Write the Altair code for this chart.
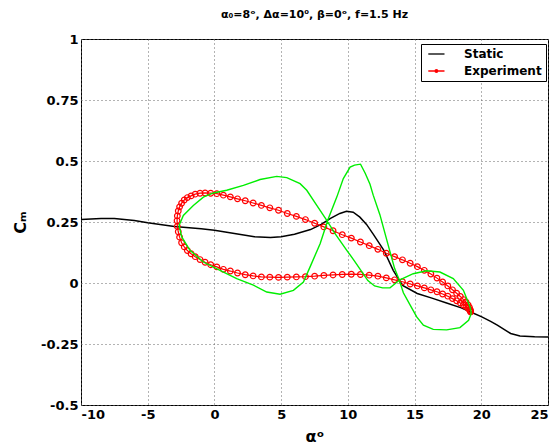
import altair as alt
import pandas as pd

# ---- data ----
static_alpha = [-10, -8.5, -7.5, -6, -5, -3, -1, 0, 1.5, 3, 4.2, 5, 6, 7.2, 8, 8.7, 9.4, 9.9, 10.4, 10.9,
                11.4, 11.9, 12.7, 13.4, 14.1, 15.2, 16.3, 17.4, 18.5, 19.2, 20, 20.7, 21.2, 22.2, 22.9, 24, 25]
static_cm = [0.26, 0.264, 0.264, 0.256, 0.247, 0.232, 0.222, 0.216, 0.203, 0.19, 0.186, 0.19, 0.2, 0.219,
             0.24, 0.265, 0.285, 0.294, 0.29, 0.27, 0.24, 0.2, 0.134, 0.052, -0.01, -0.043, -0.062, -0.082,
             -0.102, -0.119, -0.138, -0.157, -0.173, -0.207, -0.217, -0.22, -0.221]

exp_alpha_upper = [19.2, 19.18, 19.11, 19.01, 18.85, 18.66, 18.43, 18.15, 17.84, 17.49, 17.10, 16.68, 16.22,
                   15.73, 15.21, 14.67, 14.09, 13.50, 12.88, 12.25, 11.60, 10.94, 10.26, 9.58, 8.89, 8.2, 7.51,
                   6.82, 6.14, 5.46, 4.80, 4.15, 3.52, 2.90, 2.31, 1.73, 1.19, 0.67, 0.18, -0.28, -0.70, -1.08,
                   -1.44, -1.75, -2.03, -2.26, -2.46, -2.61, -2.71, -2.78, -2.8]
exp_cm_upper = [-0.118, -0.11, -0.10, -0.09, -0.078, -0.068, -0.055, -0.042, -0.028, -0.012, 0.004, 0.02,
                0.037, 0.052, 0.067, 0.081, 0.095, 0.108, 0.122, 0.138, 0.153, 0.168, 0.184, 0.198, 0.214,
                0.23, 0.245, 0.26, 0.273, 0.285, 0.298, 0.308, 0.318, 0.328, 0.337, 0.345, 0.353, 0.36, 0.366,
                0.368, 0.369, 0.368, 0.364, 0.357, 0.35, 0.34, 0.327, 0.312, 0.295, 0.275, 0.255]
exp_alpha_lower = [-2.78, -2.71, -2.61, -2.46, -2.26, -2.03, -1.75, -1.44, -1.08, -0.70, -0.28, 0.18, 0.67,
                   1.19, 1.73, 2.31, 2.90, 3.52, 4.15, 4.80, 5.46, 6.14, 6.82, 7.51, 8.2, 8.89, 9.58, 10.26,
                   10.94, 11.60, 12.25, 12.88, 13.50, 14.09, 14.67, 15.21, 15.73, 16.22, 16.68, 17.10, 17.49,
                   17.84, 18.15, 18.43, 18.66, 18.85, 19.01, 19.11, 19.18, 19.2]
exp_cm_lower = [0.232, 0.21, 0.188, 0.165, 0.148, 0.133, 0.12, 0.108, 0.096, 0.085, 0.075, 0.066, 0.056,
                0.049, 0.041, 0.034, 0.029, 0.025, 0.024, 0.023, 0.024, 0.025, 0.026, 0.028, 0.031, 0.033,
                0.035, 0.036, 0.035, 0.032, 0.028, 0.021, 0.013, 0.005, -0.004, -0.012, -0.02, -0.028,
                -0.036, -0.045, -0.054, -0.064, -0.073, -0.082, -0.09, -0.097, -0.104, -0.11, -0.115, -0.118]

green_alpha = [-2.65, -2.33, -1.58, -0.83, -0.08, 0.92, 2.17, 3.42, 4.67, 5.42, 6.42, 6.92, 7.67, 8.42, 9.04,
               9.92, 10.5, 11.0, 11.5, 12.0, 12.6, 13.16, 13.9, 14.9, 15.9, 16.9, 17.9, 18.66, 19.16, 19.25,
               19.05, 18.4, 17.4, 16.4, 15.66, 15.16, 14.66, 14.16, 13.8, 13.5, 13.1, 12.4, 11.9, 11.66, 11.3,
               10.95, 10.5, 10.17, 9.66, 9.17, 8.54, 7.92, 7.17, 6.67, 5.92, 4.92, 3.92, 2.92, 1.67, 0.42,
               -0.83, -1.83, -2.45, -2.65]
green_cm = [0.236, 0.277, 0.318, 0.352, 0.369, 0.38, 0.4, 0.424, 0.437, 0.432, 0.407, 0.38, 0.318, 0.257,
            0.202, 0.134, 0.09, 0.05, 0.01, -0.012, -0.02, -0.02, 0.013, 0.038, 0.05, 0.045, 0.018, -0.03,
            -0.098, -0.125, -0.153, -0.183, -0.192, -0.19, -0.173, -0.139, -0.09, -0.04, 0.02, 0.06, 0.14,
            0.28, 0.36, 0.405, 0.45, 0.487, 0.483, 0.475, 0.428, 0.352, 0.264, 0.161, 0.066, 0.004, -0.03,
            -0.046, -0.037, -0.009, 0.018, 0.052, 0.086, 0.134, 0.189, 0.236]

series_names = ["Static", "Experiment"]
x_ticks = [-10, -5, 0, 5, 10, 15, 20, 25]
y_ticks = [-0.5, -0.25, 0, 0.25, 0.5, 0.75, 1]

# ---- tables ----
static_df = pd.DataFrame({"alpha": static_alpha, "cm": static_cm, "series": "Static",
                          "order": range(len(static_alpha))})
exp_a = exp_alpha_upper + exp_alpha_lower
exp_c = exp_cm_upper + exp_cm_lower
exp_df = pd.DataFrame({"alpha": exp_a, "cm": exp_c, "series": "Experiment", "order": range(len(exp_a))})
green_df = pd.DataFrame({"alpha": green_alpha, "cm": green_cm, "order": range(len(green_alpha))})
both_df = pd.concat([static_df, exp_df], ignore_index=True)

FONT = "DejaVu Sans"

x_enc = alt.X("alpha:Q", scale=alt.Scale(domain=[-10, 25], nice=False, zero=False),
              axis=alt.Axis(values=x_ticks, title="αᵒ", labelExpr="'' + datum.value"))
y_enc = alt.Y("cm:Q", scale=alt.Scale(domain=[-0.5, 1], nice=False, zero=False),
              axis=alt.Axis(values=y_ticks, title="Cₘ", labelExpr="'' + datum.value"))

leg = dict(title=None, orient="none", legendX=340, legendY=5, fillColor="white", strokeColor="black",
           padding=4, rowPadding=5, labelFontSize=12, labelFontWeight="bold", labelFont=FONT,
           labelColor="black", symbolSize=81, symbolStrokeWidth=1.3, labelOffset=27, symbolOpacity=1,
           symbolFillColor="white")

color_scale = alt.Scale(domain=series_names, range=["black", "red"])
shape_scale = alt.Scale(domain=series_names,
                        range=["M-0.6,0H3",
                               "M-0.6,0H3M1.5,0A0.3,0.3 0 1,1 0.9,0A0.3,0.3 0 1,1 1.5,0"])

static_line = alt.Chart(static_df).mark_line(strokeWidth=1.5).encode(
    x=x_enc, y=y_enc, order="order:Q",
    color=alt.Color("series:N", scale=color_scale, legend=alt.Legend(**leg)))

exp_line = alt.Chart(exp_df).mark_line(strokeWidth=1.2).encode(
    x=x_enc, y=y_enc, order="order:Q",
    color=alt.Color("series:N", scale=color_scale, legend=alt.Legend(**leg)))

exp_pts = alt.Chart(exp_df).mark_point(shape="circle", size=32, filled=False, strokeWidth=1.2,
                                       color="red", opacity=1).encode(x=x_enc, y=y_enc)

green_line = alt.Chart(green_df).mark_line(strokeWidth=1.4, color="#00ee00").encode(
    x=x_enc, y=y_enc, order="order:Q")

legend_dummy = alt.Chart(both_df).mark_point(opacity=0, filled=False).encode(
    x=x_enc, y=y_enc,
    color=alt.Color("series:N", scale=color_scale, legend=alt.Legend(**leg)),
    shape=alt.Shape("series:N", scale=shape_scale, legend=alt.Legend(**leg)))

chart = alt.layer(static_line, exp_line, exp_pts, green_line, legend_dummy).properties(
    width=467, height=366,
    title=alt.TitleParams(text="α₀=8ᵒ, Δα=10⁰, β=0ᵒ, f=1.5 Hz", font=FONT, fontSize=11,
                          fontWeight="bold", color="black", anchor="middle", offset=13),
    autosize=alt.AutoSizeParams(type="none"),
    padding={"left": 81, "top": 39, "right": 9, "bottom": 41},
    background="white",
).configure_view(stroke="black", strokeWidth=1).configure_axis(
    labelFont=FONT, labelFontSize=13, labelFontWeight="bold", labelColor="black",
    titleFont=FONT, titleFontSize=16, titleFontWeight="bold", titleColor="black",
    grid=True, gridColor="#666666", gridDash=[1, 3], gridWidth=1, gridOpacity=1,
    ticks=False, domain=False, labelPadding=3,
).configure_axisX(titlePadding=7).configure_axisY(titlePadding=12, titleAngle=270)

chart.save("out.html", embed_options={"renderer": "svg", "actions": False})
